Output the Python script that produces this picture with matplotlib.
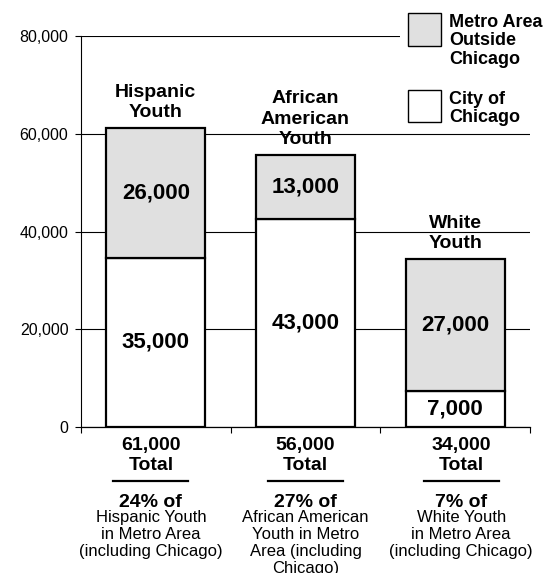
import matplotlib
matplotlib.use("Agg")
import matplotlib.pyplot as plt
from matplotlib import transforms
from matplotlib.patches import Rectangle

plt.rcParams['font.family'] = ['Liberation Sans', 'DejaVu Sans']

# data
groups = ['Hispanic\nYouth', 'African\nAmerican\nYouth', 'White\nYouth']
city = [34600, 42600, 7400]
outside = [26600, 13100, 27000]
city_labels = ['35,000', '43,000', '7,000']
outside_labels = ['26,000', '13,000', '27,000']
totals = ['61,000', '56,000', '34,000']
shares = ['24% of', '27% of', '7% of']
share_notes = ['Hispanic Youth\nin Metro Area\n(including Chicago)',
               'African American\nYouth in Metro\nArea (including\nChicago)',
               'White Youth\nin Metro Area\n(including Chicago)']
yticks = [0, 20000, 40000, 60000, 80000]
legend_labels = ['Metro Area\nOutside\nChicago', 'City of\nChicago']

grey = '#e0e0e0'
W, H = 553, 573
note_shift = [-3.6, 0, 4.3]  # points, the captions below sit a bit off the bar centres

fig = plt.figure(figsize=(W / 100, H / 100), dpi=100)
ax = fig.add_axes([81 / W, 1 - 427 / H, 449 / W, 391 / H])

x = list(range(len(groups)))
ax.bar(x, city, width=0.66, color='white', edgecolor='black', linewidth=1.6, zorder=3)
ax.bar(x, outside, bottom=city, width=0.66, color=grey, edgecolor='black', linewidth=1.6, zorder=3)

ax.set_xlim(-0.5, 2.5)
ax.set_ylim(0, 80000)
ax.set_yticks(yticks)
ax.set_yticklabels([f'{v:,}' for v in yticks])
ax.set_xticks([-0.5, 0.5, 1.5, 2.5])
ax.set_xticklabels([])
ax.tick_params(axis='y', length=4, width=0.8, labelsize=11.5, pad=5)
ax.tick_params(axis='x', length=4, width=0.8)
ax.yaxis.grid(True, color='black', linewidth=0.8)
ax.set_axisbelow(True)
for s in ['top', 'right']:
    ax.spines[s].set_visible(False)
ax.spines['left'].set_linewidth(0.8)
ax.spines['bottom'].set_linewidth(0.9)

for i in x:
    ax.text(i, city[i] / 2, city_labels[i], ha='center', va='center',
            fontsize=16, fontweight='bold', zorder=4)
    ax.text(i, city[i] + outside[i] / 2, outside_labels[i], ha='center', va='center',
            fontsize=16, fontweight='bold', zorder=4)
    ax.annotate(groups[i], (i, city[i] + outside[i]), xytext=(0, 5),
                textcoords='offset points', ha='center', va='bottom',
                fontsize=14, fontweight='bold', linespacing=1.25)

blend = transforms.blended_transform_factory(ax.transData, ax.transAxes)
for i in x:
    dx = note_shift[i]
    ax.annotate(totals[i] + '\nTotal', (i, -0.026), xycoords=blend, xytext=(dx, 0),
                textcoords='offset points', ha='center', va='top',
                fontsize=14, fontweight='bold', linespacing=1.2)
    sep = transforms.offset_copy(blend, fig=fig, x=dx, y=0, units='points')
    ax.plot([i - 0.25, i + 0.25], [-0.138, -0.138], transform=sep,
            color='black', linewidth=1.6, clip_on=False)
    ax.annotate(shares[i], (i, -0.172), xycoords=blend, xytext=(dx, 0),
                textcoords='offset points', ha='center', va='top',
                fontsize=14, fontweight='bold')
    ax.annotate(share_notes[i], (i, -0.213), xycoords=blend, xytext=(dx, 0),
                textcoords='offset points', ha='center', va='top',
                fontsize=12, linespacing=1.15)

# legend
fig.add_artist(Rectangle((400 / W, 1 - 70 / H), 153 / W, 70 / H,
                         transform=fig.transFigure, facecolor='white', edgecolor='none'))
fig.add_artist(Rectangle((408 / W, 1 - 46 / H), 33 / W, 33 / H, transform=fig.transFigure,
                         facecolor=grey, edgecolor='black', linewidth=1))
fig.add_artist(Rectangle((408 / W, 1 - 122 / H), 33 / W, 32 / H, transform=fig.transFigure,
                         facecolor='white', edgecolor='black', linewidth=1))
fig.text(449 / W, 1 - 14 / H, legend_labels[0], va='top', ha='left',
         fontsize=13, fontweight='bold', linespacing=1.1)
fig.text(449 / W, 1 - 91 / H, legend_labels[1], va='top', ha='left',
         fontsize=13, fontweight='bold', linespacing=1.1)

fig.savefig('out.png', dpi=100)
